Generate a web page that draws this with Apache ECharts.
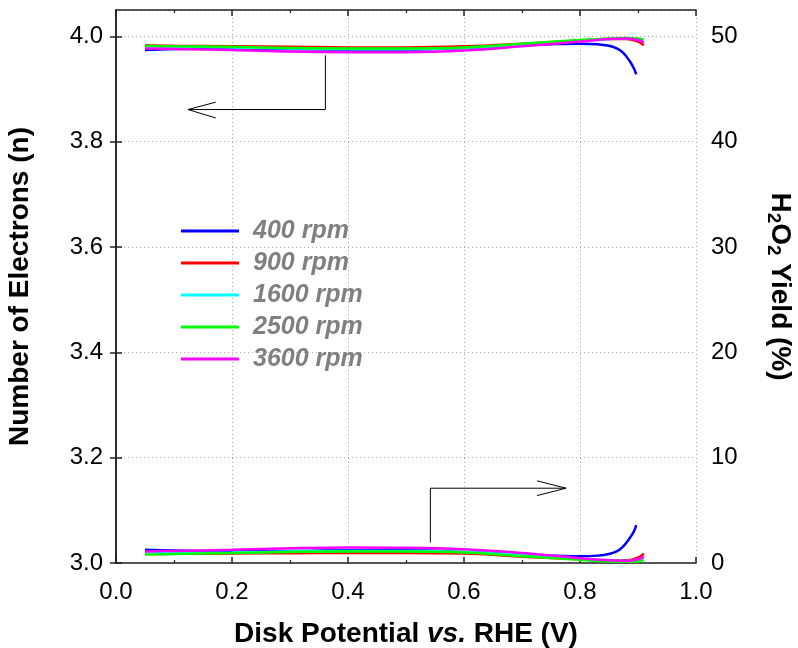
<!DOCTYPE html>
<html>
<head>
<meta charset="utf-8">
<script src="https://cdn.jsdelivr.net/npm/echarts@6/dist/echarts.min.js"></script>
<style>html,body{margin:0;padding:0;background:#fff}#c{width:798px;height:648px}</style>
</head>
<body>
<div id="c"></div>
<script>
// ---- data ----
const seriesNames = ['400 rpm', '900 rpm', '1600 rpm', '2500 rpm', '3600 rpm'];
const seriesColors = ['#0000ff', '#ff0000', '#00ffff', '#00ff00', '#ff00ff'];
const potential = [0.05, 0.1, 0.2, 0.3, 0.4, 0.5, 0.6, 0.7, 0.8, 0.85, 0.88, 0.9, 0.91];
const potential400 = [0.05, 0.1, 0.2, 0.3, 0.4, 0.5, 0.6, 0.7, 0.75, 0.8, 0.83, 0.85, 0.865, 0.875, 0.885, 0.893, 0.897];
const n400  = [3.974, 3.976, 3.977, 3.976, 3.975, 3.975, 3.978, 3.983, 3.985, 3.986, 3.985, 3.982, 3.976, 3.968, 3.954, 3.939, 3.928];
const n900  = [3.983, 3.982, 3.981, 3.980, 3.979, 3.979, 3.981, 3.986, 3.992, 3.995, 3.995, 3.990, 3.983];
const n1600 = [3.981, 3.980, 3.979, 3.977, 3.976, 3.976, 3.978, 3.984, 3.991, 3.995, 3.996, 3.994, 3.989];
const n2500 = [3.982, 3.981, 3.980, 3.978, 3.977, 3.977, 3.979, 3.986, 3.993, 3.996, 3.997, 3.996, 3.994];
const n3600 = [3.977, 3.976, 3.974, 3.971, 3.970, 3.970, 3.973, 3.981, 3.990, 3.995, 3.996, 3.993, 3.988];
const h400  = [1.25, 1.18, 1.12, 1.15, 1.2, 1.2, 1.05, 0.8, 0.7, 0.65, 0.7, 0.85, 1.15, 1.6, 2.3, 3.0, 3.6];
const h900  = [0.85, 0.87, 0.9, 0.93, 0.95, 0.95, 0.9, 0.6, 0.35, 0.25, 0.25, 0.5, 0.9];
const h1600 = [0.9, 0.95, 1.0, 1.1, 1.15, 1.15, 1.05, 0.75, 0.4, 0.25, 0.2, 0.3, 0.5];
const h2500 = [0.8, 0.85, 0.95, 1.05, 1.1, 1.1, 1.0, 0.65, 0.3, 0.15, 0.12, 0.15, 0.3];
const h3600 = [1.1, 1.15, 1.25, 1.4, 1.48, 1.45, 1.3, 0.95, 0.45, 0.25, 0.2, 0.35, 0.6];
// annotation arrows (data coordinates on left axis)
const arrowLeftPath  = [[0.361, 3.964], [0.361, 3.861], [0.124, 3.861]];
const arrowLeftHead  = [[0.172, 3.875], [0.124, 3.861], [0.172, 3.845]];
const arrowRightPath = [[0.542, 3.039], [0.542, 3.142], [0.776, 3.142]];
const arrowRightHead = [[0.726, 3.156], [0.776, 3.142], [0.726, 3.128]];

const nData = [n400, n900, n1600, n2500, n3600];
const hData = [h400, h900, h1600, h2500, h3600];
const xData = [potential400, potential, potential, potential, potential];

const zip = (xs, ys) => xs.map((x, i) => [x, ys[i]]);
const FONT = '"Liberation Sans", Arial, sans-serif';

const series = [];
for (let i = 0; i < 5; i++) {
  const base = {
    type: 'line', name: seriesNames[i], smooth: 0.4, symbol: 'none', showSymbol: false,
    lineStyle: { color: seriesColors[i], width: 2.5 }, itemStyle: { color: seriesColors[i] },
    xAxisIndex: 0, silent: true, z: 3 + i
  };
  series.push(Object.assign({}, base, { yAxisIndex: 0, data: zip(xData[i], nData[i]) }));
  series.push(Object.assign({}, base, { yAxisIndex: 1, data: zip(xData[i], hData[i]) }));
}
[arrowLeftPath, arrowLeftHead, arrowRightPath, arrowRightHead].forEach(p => {
  series.push({ type: 'line', data: p, symbol: 'none', xAxisIndex: 0, yAxisIndex: 0, silent: true,
    lineStyle: { color: '#000', width: 1 }, z: 10 });
});

const axisLineStyle = { color: '#222', width: 1.5 };
const gridLine = { show: true, lineStyle: { color: '#aaa', type: [1, 3], width: 1 } };

const option = {
  animation: false,
  backgroundColor: '#fff',
  grid: { left: 116, right: 102, top: 10, bottom: 85, containLabel: false, outerBoundsMode: 'none' },
  legend: {
    orient: 'vertical', left: 176, top: 210,
    data: seriesNames.map(n => ({ name: n, icon: 'rect' })),
    itemWidth: 58, itemHeight: 3, itemGap: 0,
    textStyle: { fontFamily: FONT, fontSize: 25, lineHeight: 32, fontWeight: 'bold', fontStyle: 'italic', color: '#808080', padding: [0, 0, 0, 9] }
  },
  xAxis: [
    {
      type: 'value', position: 'bottom', min: 0, max: 1, interval: 0.2,
      axisLine: { show: true, lineStyle: axisLineStyle },
      axisTick: { show: true, inside: true, length: 6, lineStyle: axisLineStyle },
      minorTick: { show: true, splitNumber: 2, length: 3, lineStyle: { color: '#222', width: 1.2 } },
      splitLine: gridLine,
      axisLabel: { fontFamily: FONT, fontSize: 24, color: '#000', margin: 17, formatter: v => v.toFixed(1) },
      name: '{b|Disk Potential }{i|vs.}{b| RHE (V)}', nameLocation: 'middle', nameGap: 57,
      nameTextStyle: { rich: {
        b: { fontFamily: FONT, fontSize: 28, fontWeight: 'bold', color: '#000' },
        i: { fontFamily: FONT, fontSize: 28, fontWeight: 'bold', fontStyle: 'italic', color: '#000' }
      } }
    },
    {
      type: 'value', position: 'top', min: 0, max: 1, interval: 0.2,
      axisLine: { show: true, lineStyle: axisLineStyle },
      axisTick: { show: true, inside: true, length: 6, lineStyle: axisLineStyle },
      minorTick: { show: true, splitNumber: 2, length: 3, lineStyle: { color: '#222', width: 1.2 } },
      splitLine: { show: false }, axisLabel: { show: false }
    }
  ],
  yAxis: [
    {
      type: 'value', position: 'left', min: 3.0, max: 4.05, interval: 0.2,
      axisLine: { show: true, lineStyle: axisLineStyle },
      axisTick: { show: true, inside: true, length: 6, lineStyle: axisLineStyle },
      splitLine: gridLine,
      axisLabel: { fontFamily: FONT, fontSize: 24, color: '#000', margin: 13, showMaxLabel: false, formatter: v => v.toFixed(1) },
      name: 'Number of Electrons (n)', nameLocation: 'middle', nameGap: 82,
      nameTextStyle: { fontFamily: FONT, fontSize: 28, fontWeight: 'bold', color: '#000' }
    },
    {
      type: 'value', position: 'right', min: 0, max: 52.5, interval: 10,
      axisLine: { show: true, lineStyle: axisLineStyle },
      axisTick: { show: true, inside: true, length: 6, lineStyle: axisLineStyle },
      splitLine: { show: false },
      axisLabel: { fontFamily: FONT, fontSize: 24, color: '#000', margin: 15, showMaxLabel: false },
      name: '{a|H}{s|2}{a|O}{s|2}{a| Yield (%)}', nameLocation: 'middle', nameGap: 68, nameRotate: -90,
      nameTextStyle: { rich: {
        a: { fontFamily: FONT, fontSize: 28, fontWeight: 'bold', color: '#000', lineHeight: 32, verticalAlign: 'middle' },
        s: { fontFamily: FONT, fontSize: 19, fontWeight: 'bold', color: '#000', lineHeight: 17, verticalAlign: 'bottom' }
      } }
    }
  ],
  series: series
};

const chart = echarts.init(document.getElementById('c'), null, { renderer: 'canvas' });
chart.setOption(option);
</script>
</body>
</html>
